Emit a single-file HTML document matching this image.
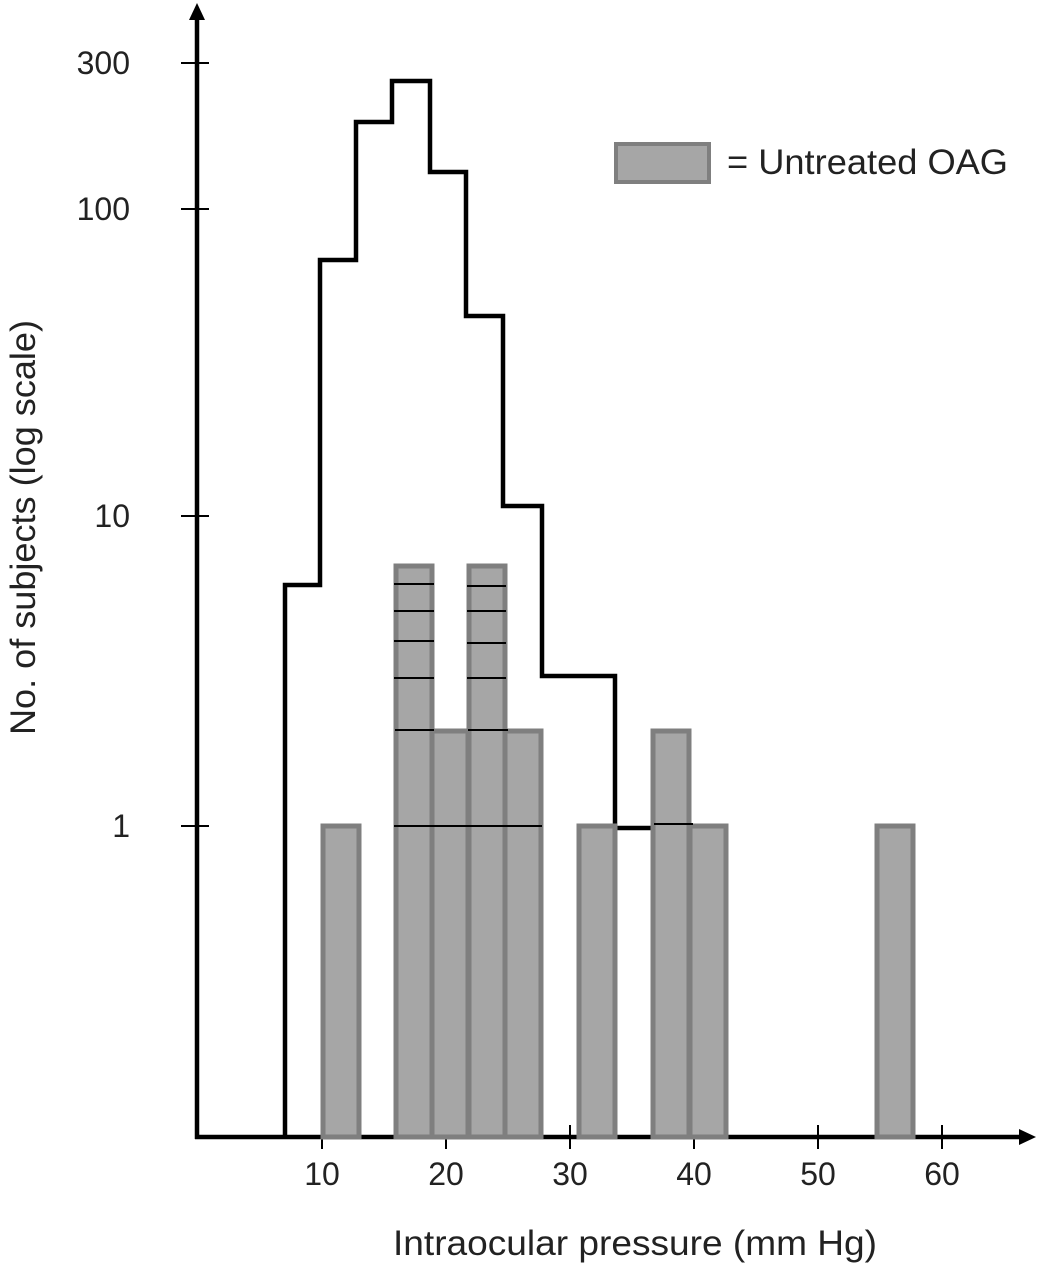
<!DOCTYPE html>
<html><head><style>body{margin:0;background:#fff}svg{display:block}</style></head><body>
<svg width="1043" height="1274" xmlns="http://www.w3.org/2000/svg" font-family="Liberation Sans, sans-serif">
<g stroke="#000" stroke-width="2">
<line x1="181" y1="63" x2="209" y2="63"/><line x1="181" y1="209" x2="209" y2="209"/>
<line x1="181" y1="516" x2="209" y2="516"/><line x1="181" y1="826" x2="209" y2="826"/>
<line x1="322" y1="1125" x2="322" y2="1149"/><line x1="446" y1="1125" x2="446" y2="1149"/>
<line x1="570" y1="1125" x2="570" y2="1149"/><line x1="694" y1="1125" x2="694" y2="1149"/>
<line x1="818" y1="1125" x2="818" y2="1149"/><line x1="942" y1="1125" x2="942" y2="1149"/>
</g>
<line x1="197" y1="15" x2="197" y2="1139" stroke="#000" stroke-width="4.5"/>
<polygon points="197,3 189,20 205,20" fill="#000"/>
<line x1="195" y1="1137" x2="1022" y2="1137" stroke="#000" stroke-width="4.5"/>
<polygon points="1036,1137 1019,1129 1019,1145" fill="#000"/>
<polyline fill="none" stroke="#000" stroke-width="4.5" points="285,1137 285,585 320,585 320,260 356,260 356,122 392,122 392,81 430,81 430,172 466,172 466,316 503,316 503,506 542,506 542,676 615,676 615,828 690,828"/>
<g fill="#a6a6a6" stroke="#7f7f7f" stroke-width="5">
<rect x="323" y="826" width="36" height="311"/>
<rect x="396" y="566" width="36" height="571"/>
<rect x="432" y="731" width="36" height="406"/>
<rect x="469" y="566" width="36" height="571"/>
<rect x="505" y="731" width="36" height="406"/>
<rect x="579" y="826" width="36" height="311"/>
<rect x="653" y="731" width="36" height="406"/>
<rect x="690" y="826" width="36" height="311"/>
<rect x="877" y="826" width="36" height="311"/>
</g>
<g stroke="#000" stroke-width="2">
<line x1="394" y1="584" x2="434" y2="584"/><line x1="394" y1="611" x2="434" y2="611"/>
<line x1="394" y1="641" x2="434" y2="641"/><line x1="394" y1="678" x2="434" y2="678"/>
<line x1="395" y1="730" x2="434" y2="730"/>
<line x1="467" y1="586" x2="506" y2="586"/><line x1="467" y1="611" x2="506" y2="611"/>
<line x1="467" y1="643" x2="506" y2="643"/><line x1="467" y1="678" x2="506" y2="678"/>
<line x1="468" y1="730" x2="508" y2="730"/>
<line x1="394" y1="826" x2="542" y2="826"/>
<line x1="654" y1="824" x2="693" y2="824"/>
</g>
<rect x="616" y="144" width="93" height="38" fill="#a6a6a6" stroke="#7f7f7f" stroke-width="4"/>
<text x="727" y="174" font-size="35" fill="#222" textLength="281" lengthAdjust="spacingAndGlyphs">= Untreated  OAG</text>
<g font-size="32" fill="#222" text-anchor="end">
<text x="130" y="74">300</text><text x="130" y="220">100</text>
<text x="130" y="527">10</text><text x="130" y="837">1</text>
</g>
<g font-size="32" fill="#222" text-anchor="middle">
<text x="322" y="1185">10</text><text x="446" y="1185">20</text><text x="570" y="1185">30</text>
<text x="694" y="1185">40</text><text x="818" y="1185">50</text><text x="942" y="1185">60</text>
</g>
<text x="393" y="1255" font-size="35" fill="#222" textLength="484" lengthAdjust="spacingAndGlyphs">Intraocular pressure (mm Hg)</text>
<text transform="translate(35,735) rotate(-90)" font-size="35" fill="#222" textLength="415" lengthAdjust="spacingAndGlyphs">No. of subjects (log scale)</text>
</svg>
</body></html>
